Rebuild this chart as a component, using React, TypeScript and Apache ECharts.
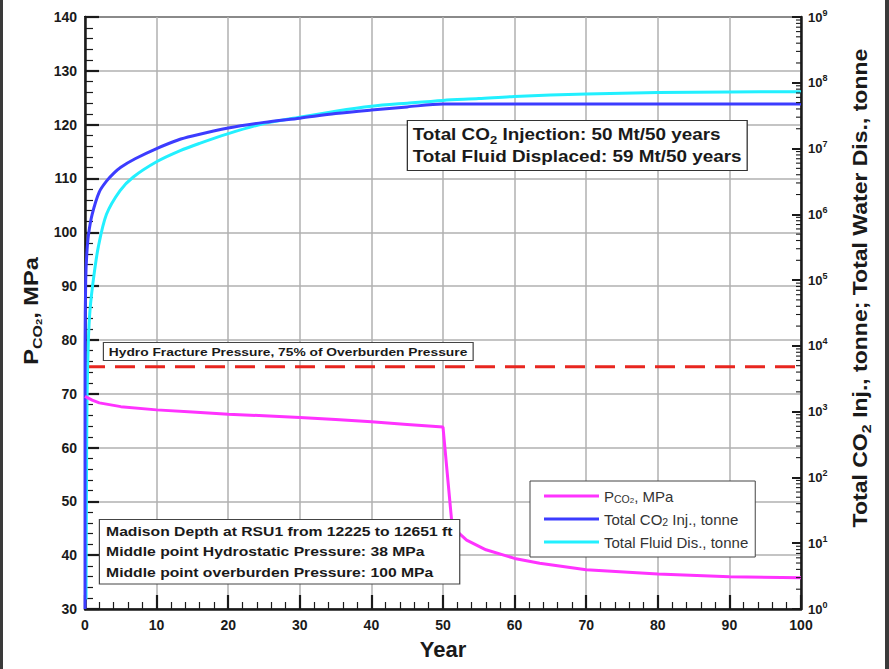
import React, { useEffect, useRef } from "react";
import * as echarts from "echarts";

// Injection-well pressure (left axis, MPa)
const pressureYears = [0, 1, 2, 5, 10, 15, 20, 25, 30, 35, 40, 45, 50, 51.2, 51.7, 52.3, 53.3, 56, 60, 63.5, 70, 80, 90, 100];
const pressureMPa = [69.5, 68.8, 68.3, 67.6, 67.0, 66.6, 66.2, 65.9, 65.6, 65.2, 64.8, 64.3, 63.8, 46.5, 45.0, 44.0, 42.8, 41.0, 39.4, 38.5, 37.3, 36.5, 36.0, 35.8];

// Cumulative CO2 injected (right axis, tonne)
const injectionYears = [0.002, 0.01, 0.1, 0.25, 0.5, 1, 2, 3, 4, 5, 7, 10, 13, 15, 20, 25, 30, 35, 40, 45, 50, 60, 70, 80, 90, 100];
const injectionTonnes = [1, 1e4, 1e5, 2.5e5, 5e5, 1e6, 2.2e6, 3.2e6, 4.2e6, 5.2e6, 7e6, 1e7, 1.35e7, 1.55e7, 2.05e7, 2.5e7, 2.9e7, 3.4e7, 3.85e7, 4.3e7, 4.75e7, 4.75e7, 4.75e7, 4.75e7, 4.75e7, 4.75e7];

// Cumulative fluid displaced (right axis, tonne)
const displacedYears = [0.14, 0.2, 0.28, 0.47, 0.7, 1.16, 1.86, 3, 4.9, 6.75, 10, 13.3, 16, 19.8, 25, 30, 35, 40, 45, 50, 55, 60, 70, 80, 90, 100];
const displacedTonnes = [1.4, 45, 1500, 1.2e4, 3.5e4, 1e5, 3.2e5, 1e6, 2.3e6, 3.7e6, 6.3e6, 9.3e6, 1.2e7, 1.66e7, 2.4e7, 3.0e7, 3.7e7, 4.4e7, 4.9e7, 5.4e7, 5.75e7, 6.2e7, 6.75e7, 7.1e7, 7.25e7, 7.3e7];

// Hydro fracture pressure, 75% of overburden (MPa)
const fracturePressure = 75;
const fractureYears = [0, 100];

// Log-axis minor tick multipliers and decades
const logMinorMultipliers = [2, 3, 4, 5, 6, 7, 8, 9];
const logDecades = [0, 1, 2, 3, 4, 5, 6, 7, 8];

const SERIES_P = "P_CO2, MPa";
const SERIES_INJ = "Total CO2 Inj., tonne";
const SERIES_DIS = "Total Fluid Dis., tonne";

const FONT = '"Liberation Sans", Arial, sans-serif';
const INK = "#1a1a1a";
const STRETCH = 1.18;

const zip = (xs: number[], ys: number[]) => xs.map((x, i) => [x, ys[i]]);

export default function App() {
  const ref = useRef<HTMLDivElement>(null);

  useEffect(() => {
    if (!ref.current) return;
    const chart = echarts.init(ref.current, null, { renderer: "svg" });

    const minorTickData: number[][] = [];
    logDecades.forEach((d) => {
      logMinorMultipliers.forEach((m) => minorTickData.push([100, m * Math.pow(10, d)]));
    });

    const boldText = { fontFamily: FONT, fontWeight: "bold" as const, fill: INK };
    const tickLabel = { fontFamily: FONT, fontWeight: "bold", fontSize: 14, color: INK };

    const option: any = {
      animation: false,
      backgroundColor: "#ffffff",
      grid: {
        left: 85,
        right: 88,
        top: 17,
        bottom: 60,
        show: true,
        borderColor: INK,
        borderWidth: 2,
        backgroundColor: "transparent",
      },
      xAxis: {
        type: "value",
        min: 0,
        max: 100,
        interval: 10,
        name: "Year",
        nameLocation: "middle",
        nameGap: 29,
        nameTextStyle: { fontFamily: FONT, fontWeight: "bold", fontSize: 22, color: INK },
        axisLine: { show: true, onZero: false, lineStyle: { color: INK, width: 2.5 } },
        axisTick: { show: true, inside: true, length: 14, lineStyle: { color: INK, width: 2.2 } },
        minorTick: { show: true, splitNumber: 5, length: 7, lineStyle: { color: INK, width: 1.2 } },
        axisLabel: { ...tickLabel, margin: 9 },
        splitLine: { show: true, lineStyle: { color: "#b0b0b0", width: 1.5 } },
      },
      yAxis: [
        {
          type: "value",
          min: 30,
          max: 140,
          interval: 10,
          position: "left",
          axisLine: { show: true, onZero: false, lineStyle: { color: INK, width: 2.5 } },
          axisTick: { show: true, inside: true, length: 14, lineStyle: { color: INK, width: 2.2 } },
          minorTick: { show: true, splitNumber: 5, length: 8, lineStyle: { color: INK, width: 1.2 } },
          axisLabel: { ...tickLabel, margin: 8 },
          splitLine: { show: true, lineStyle: { color: "#b0b0b0", width: 1.5 } },
        },
        {
          type: "log",
          logBase: 10,
          min: 1,
          max: 1e9,
          splitNumber: 9,
          position: "right",
          axisLine: { show: true, onZero: false, lineStyle: { color: INK, width: 2.5 } },
          axisTick: { show: true, inside: true, length: 9, lineStyle: { color: INK, width: 2 } },
          splitLine: { show: false },
          axisLabel: {
            ...tickLabel,
            fontSize: 13,
            margin: 7,
            lineHeight: 18,
            formatter: (v: number) => `10{sup|${Math.round(Math.log10(v))}}`,
            rich: {
              sup: { fontFamily: FONT, fontWeight: "bold", fontSize: 9, color: INK, lineHeight: 10, verticalAlign: "top" },
            },
          },
        },
      ],
      legend: {
        data: [SERIES_P, SERIES_INJ, SERIES_DIS],
        orient: "vertical",
        left: 530,
        top: 481,
        icon: "rect",
        itemWidth: 55,
        itemHeight: 3,
        itemGap: 7,
        padding: [7, 7, 7, 14],
        backgroundColor: "#ffffff",
        borderColor: "#444",
        borderWidth: 1,
        z: 20,
        textStyle: {
          fontFamily: FONT,
          fontSize: 15,
          color: "#333",
          lineHeight: 16,
          rich: {
            sub: { fontFamily: FONT, fontSize: 10.5, color: "#333", lineHeight: 10, verticalAlign: "bottom" },
            sub2: { fontFamily: FONT, fontSize: 8, color: "#333", lineHeight: 7, verticalAlign: "bottom" },
          },
        },
        formatter: (name: string) => {
          if (name === SERIES_P) return "P{sub|CO}{sub2|2}, MPa";
          if (name === SERIES_INJ) return "Total CO{sub|2} Inj., tonne";
          return name;
        },
      },
      series: [
        {
          name: "Hydro Fracture Pressure",
          type: "line",
          yAxisIndex: 0,
          showSymbol: false,
          silent: true,
          data: fractureYears.map((x) => [x, fracturePressure]),
          lineStyle: { color: "#e8261f", width: 3, type: [20, 10] },
          z: 1,
        },
        {
          name: SERIES_DIS,
          type: "line",
          yAxisIndex: 1,
          showSymbol: false,
          smooth: 0.3,
          data: zip(displacedYears, displacedTonnes),
          itemStyle: { color: "#22f0ff" },
          lineStyle: { color: "#22f0ff", width: 3 },
          z: 3,
        },
        {
          name: SERIES_INJ,
          type: "line",
          yAxisIndex: 1,
          showSymbol: false,
          smooth: 0.3,
          data: zip(injectionYears, injectionTonnes),
          itemStyle: { color: "#3c3cff" },
          lineStyle: { color: "#3c3cff", width: 3 },
          z: 4,
        },
        {
          name: SERIES_P,
          type: "line",
          yAxisIndex: 0,
          showSymbol: false,
          data: zip(pressureYears, pressureMPa),
          itemStyle: { color: "#ff33ff" },
          lineStyle: { color: "#ff33ff", width: 3 },
          z: 5,
        },
        {
          name: "log minor ticks",
          type: "custom",
          yAxisIndex: 1,
          silent: true,
          clip: false,
          data: minorTickData,
          renderItem: (_params: any, api: any) => {
            const p = api.coord([api.value(0), api.value(1)]);
            return {
              type: "line",
              shape: { x1: p[0] - 5, y1: p[1], x2: p[0], y2: p[1] },
              style: { stroke: INK, lineWidth: 1.1 },
            };
          },
          z: 6,
        },
      ],
      graphic: [
        { type: "rect", left: 0, top: 0, shape: { width: 3, height: 669 }, style: { fill: "#3a3a3a" }, z: 200 },
        { type: "rect", right: 0, top: 0, shape: { width: 4, height: 669 }, style: { fill: "#3a3a3a" }, z: 200 },
        // left axis title
        {
          type: "text",
          x: 31,
          y: 311,
          rotation: Math.PI / 2,
          scaleX: STRETCH,
          z: 100,
          style: {
            ...boldText,
            text: "P{s1|CO}{s2|2}, MPa",
            fontSize: 20,
            lineHeight: 26,
            align: "center",
            verticalAlign: "middle",
            rich: {
              s1: { fontFamily: FONT, fontWeight: "bold", fontSize: 13.5, lineHeight: 14, verticalAlign: "bottom", fill: INK },
              s2: { fontFamily: FONT, fontWeight: "bold", fontSize: 9.5, lineHeight: 8, verticalAlign: "bottom", fill: INK },
            },
          },
        },
        // right axis title
        {
          type: "text",
          x: 861,
          y: 288,
          rotation: Math.PI / 2,
          scaleX: STRETCH,
          z: 100,
          style: {
            ...boldText,
            text: "Total CO{s|2} Inj., tonne; Total Water Dis., tonne",
            fontSize: 19.5,
            lineHeight: 24,
            align: "center",
            verticalAlign: "middle",
            rich: {
              s: { fontFamily: FONT, fontWeight: "bold", fontSize: 13.5, lineHeight: 12, verticalAlign: "bottom", fill: INK },
            },
          },
        },
        {
          type: "text",
          x: 408,
          y: 121,
          scaleX: STRETCH,
          z: 100,
          style: {
            ...boldText,
            text: "Total CO{s|2} Injection: 50 Mt/50 years\nTotal Fluid Displaced: 59 Mt/50 years",
            fontSize: 16,
            lineHeight: 22.5,
            padding: [2, 4, 2, 4],
            backgroundColor: "#ffffff",
            borderColor: "#333",
            borderWidth: 1.1,
            rich: {
              s: { fontFamily: FONT, fontWeight: "bold", fontSize: 11, lineHeight: 10, verticalAlign: "bottom", fill: INK },
            },
          },
        },
        {
          type: "text",
          x: 104,
          y: 343,
          scaleX: 1.2,
          z: 100,
          style: {
            ...boldText,
            text: "Hydro Fracture Pressure, 75% of Overburden Pressure",
            fontSize: 11.5,
            lineHeight: 14,
            padding: [2, 4, 1, 4],
            backgroundColor: "#ffffff",
            borderColor: "#444",
            borderWidth: 1,
          },
        },
        {
          type: "text",
          x: 100,
          y: 520,
          scaleX: 1.21,
          z: 100,
          style: {
            ...boldText,
            text:
              "Madison Depth at RSU1 from 12225 to 12651 ft\nMiddle point Hydrostatic Pressure: 38 MPa\nMiddle point overburden Pressure: 100 MPa",
            fontSize: 13,
            lineHeight: 20.5,
            padding: [1, 5, 1, 5],
            backgroundColor: "#ffffff",
            borderColor: "#444",
            borderWidth: 1,
          },
        },
      ],
    };

    chart.setOption(option);
    return () => chart.dispose();
  }, []);

  return <div ref={ref} style={{ position: "fixed", left: 0, top: 0, width: 889, height: 669 }} />;
}
